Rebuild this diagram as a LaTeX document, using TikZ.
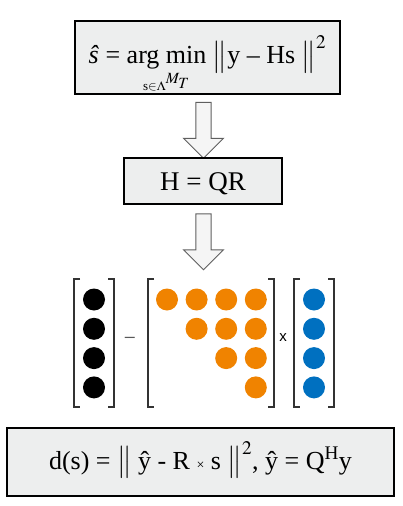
\documentclass[tikz,border=0pt]{standalone}
\usepackage{mathptmx}
\usepackage{fontspec}
\setmainfont{Liberation Serif}
\setsansfont{Liberation Sans}
\usetikzlibrary{shapes.arrows}
\definecolor{boxgray}{RGB}{237,238,238}
\definecolor{arrowline}{RGB}{95,95,95}
\definecolor{dotorange}{RGB}{240,131,0}
\definecolor{dotblue}{RGB}{0,112,192}

\begin{document}
\begin{tikzpicture}[x=1pt,y=-1pt,
  eqbox/.style={draw,fill=boxgray,line width=1.1pt,inner sep=0pt},
  downarrow/.style={single arrow,rotate=-90,draw=arrowline,fill=gray!8,line width=.9pt,
    inner xsep=0pt,inner ysep=7pt,minimum width=40pt,minimum height=56pt,
    single arrow head extend=12pt},
  dot/.style={circle,inner sep=0pt,minimum size=22pt},
  bracket/.style={draw=black!80,line width=1.1pt}]
  \useasboundingbox (0,0) rectangle (403,506);

  \node[eqbox,minimum width=265pt,minimum height=73pt,text height=22pt,text depth=10pt,
    font=\fontsize{26}{30}\selectfont] (eq) at (207.5,57.5)
    {\textit{\^{s}} = $\mathop{\mbox{arg min}}\limits_{\mbox{\fontsize{13}{14}\selectfont s${\in}\Lambda$}^{M_T}}$
     $\big\|$y -- Hs $\big\|^2$};
  \node[downarrow] (arr1) at (203.5,126.5) {};
  \node[eqbox,minimum width=158pt,minimum height=46pt,text height=18pt,text depth=0pt,
    font=\fontsize{27}{30}\selectfont] (qr) at (203,181) {H = QR};
  \node[downarrow] (arr2) at (203.5,238) {};

  \foreach \r in {0,...,3}{
    \node[dot,fill=black] (y\r) at (94,299.5+29.3*\r) {};
    \node[dot,fill=dotblue] (s\r) at (314,299.5+29.3*\r) {};
    \foreach \c in {\r,...,3}
      \node[dot,fill=dotorange] (r\r\c) at (167+29.6*\c,299.5+29.3*\r) {};
  }
  \draw[bracket] (80,279) -- (74,279) -- (74,407) -- (80,407);
  \draw[bracket] (108,279) -- (114,279) -- (114,407) -- (108,407);
  \draw[bracket] (154,279) -- (148,279) -- (148,407) -- (154,407);
  \draw[bracket] (268,279) -- (274,279) -- (274,407) -- (268,407);
  \draw[bracket] (300,279) -- (294,279) -- (294,407) -- (300,407);
  \draw[bracket] (328,279) -- (334,279) -- (334,407) -- (328,407);
  \node[font=\sffamily\fontsize{18}{20}\selectfont,text=black!65] (minus) at (130,340) {--};
  \node[font=\sffamily\fontsize{15}{16}\selectfont] (times) at (283,338) {x};

  \node[eqbox,minimum width=387pt,minimum height=68pt,text height=22pt,text depth=8pt,
    font=\fontsize{26}{30}\selectfont] (dist) at (200.5,462)
    {d(s) = $\big\|$ ŷ - R {\fontsize{14}{16}\selectfont ×} s $\big\|^2$, ŷ = Q\textsuperscript{H}y};
\end{tikzpicture}
\end{document}
